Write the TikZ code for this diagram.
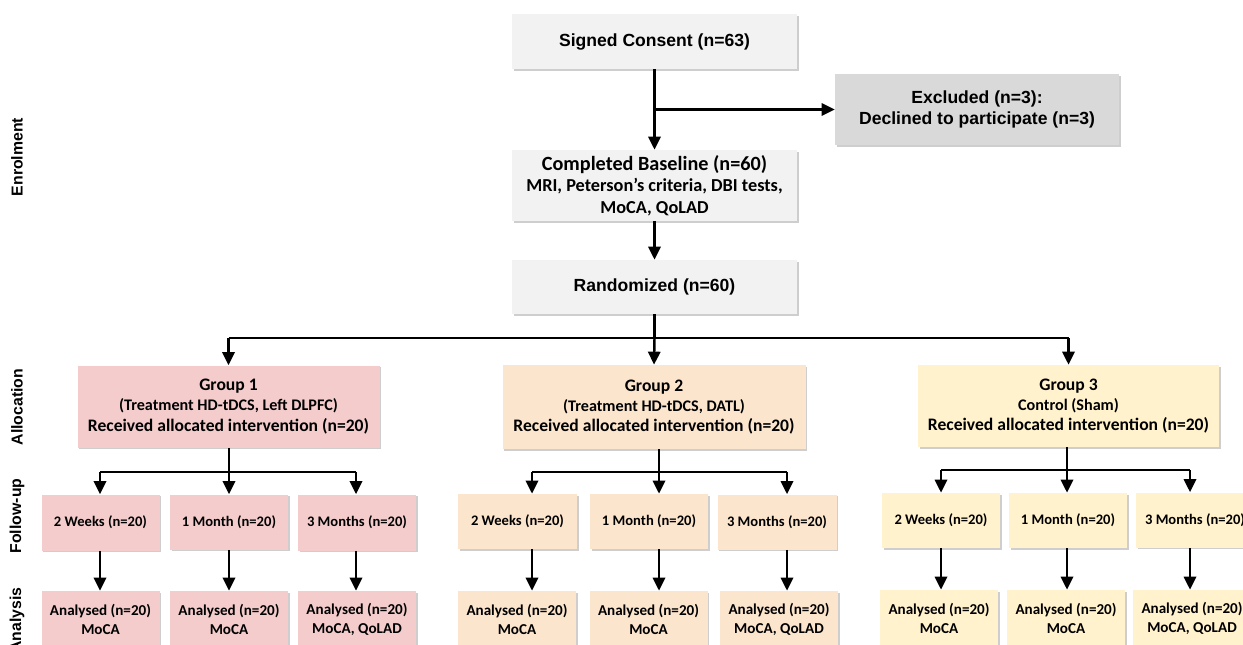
\documentclass[tikz,border=0pt]{standalone}
\usepackage{fontspec}
\setmainfont{Carlito}
\newfontfamily\arialfont{Liberation Sans}
\usetikzlibrary{arrows.meta,positioning,shadows}
\definecolor{ConsentBg}{HTML}{F2F2F2}
\definecolor{ExclBg}{HTML}{D9D9D9}
\definecolor{GroupOne}{HTML}{F4CCCC}
\definecolor{GroupTwo}{HTML}{FCE5CD}
\definecolor{GroupThree}{HTML}{FFF2CC}
\newlength{\px}
\setlength{\px}{0.02cm}
\newcommand{\subline}[1]{{\fontsize{9.2}{11.6}\selectfont #1}}

\begin{document}
\begin{tikzpicture}[x=0.02cm,y=-0.02cm,
  font=\bfseries,
  box/.style={inner sep=2pt,align=center,
              drop shadow={shadow xshift=0.9pt,shadow yshift=-1.1pt,opacity=0.35,fill=black!55}},
  topbox/.style={box,fill=ConsentBg,minimum width=285\px,
                 font=\arialfont\bfseries\fontsize{10}{12}\selectfont},
  grp/.style={box,minimum width=302\px,minimum height=82\px,
              font=\bfseries\fontsize{10}{11.6}\selectfont},
  fup/.style={box,minimum width=118\px,minimum height=55\px,
              font=\bfseries\fontsize{8.3}{10}\selectfont},
  ana/.style={box,minimum width=118\px,minimum height=56\px,
              font=\bfseries\fontsize{8.6}{10.8}\selectfont},
  side/.style={rotate=90,font=\arialfont\bfseries\fontsize{9}{10}\selectfont},
  fl/.style={-{Triangle[length=7.4pt,width=7pt]},line width=1.4pt},
  ln/.style={line width=1.4pt}
]
\useasboundingbox (0,0) rectangle (1243,645);
\fill[white] (0,0) rectangle (1243,645);
\clip (0,0) rectangle (1243,645);

\node[side] (lenrol) at (17,157) {Enrolment};
\node[side] (lalloc) at (17,407) {Allocation};
\node[side] (lfollow) at (17,516) {Follow-up};
\node[side] (lanaly) at (17,620) {Analysis};

\node[topbox,minimum height=55\px] (consent) at (654.5,41.5) {Signed Consent (n=63)};
\node[topbox,fill=ExclBg,minimum width=284\px,minimum height=71\px] (excl) at (977,109.5)
  {Excluded (n=3):\\Declined to participate (n=3)};
\node[topbox,minimum height=71\px,font=\bfseries\fontsize{11.5}{12.2}\selectfont] (base) at (654.5,185.5)
  {Completed Baseline (n=60)\\{\fontsize{10.4}{12.2}\selectfont MRI, Peterson’s criteria, DBI tests,}\\{\fontsize{10.4}{12.2}\selectfont MoCA, QoLAD}};
\node[topbox,minimum height=54\px] (rand) at (654.5,287) {Randomized (n=60)};

\node[grp,fill=GroupOne] (g1) at (228.5,406.5)
  {Group 1\\\subline{(Treatment HD-tDCS, Left DLPFC)}\\Received allocated intervention (n=20)};
\node[grp,fill=GroupTwo,minimum width=303\px,minimum height=84\px] (g2) at (654,407)
  {Group 2\\\subline{(Treatment HD-tDCS, DATL)}\\Received allocated intervention (n=20)};
\node[grp,fill=GroupThree,minimum width=301\px] (g3) at (1068.5,406)
  {Group 3\\\subline{Control (Sham)}\\Received allocated intervention (n=20)};

\node[fup,fill=GroupOne,minimum height=56\px] (f11) at (100.5,522.5) {2 Weeks (n=20)};
\node[fup,fill=GroupOne] (f12) at (229,522) {1 Month (n=20)};
\node[fup,fill=GroupOne,minimum height=56\px] (f13) at (357,522.5) {3 Months (n=20)};
\node[ana,fill=GroupOne] (a11) at (100.5,619) {Analysed (n=20)\\MoCA};
\node[ana,fill=GroupOne] (a12) at (229,619) {Analysed (n=20)\\MoCA};
\node[ana,fill=GroupOne] (a13) at (357,619) {Analysed (n=20)\\MoCA, QoLAD};

\node[fup,fill=GroupTwo,minimum width=119\px] (f21) at (517.5,521.5) {2 Weeks (n=20)};
\node[fup,fill=GroupTwo] (f22) at (649,521.5) {1 Month (n=20)};
\node[fup,fill=GroupTwo,minimum width=119\px] (f23) at (777,522) {3 Months (n=20)};
\node[ana,fill=GroupTwo] (a21) at (517,619) {Analysed (n=20)\\MoCA};
\node[ana,fill=GroupTwo] (a22) at (648.5,619) {Analysed (n=20)\\MoCA};
\node[ana,fill=GroupTwo] (a23) at (779,619) {Analysed (n=20)\\MoCA, QoLAD};

\node[fup,fill=GroupThree] (f31) at (941,520.5) {2 Weeks (n=20)};
\node[fup,fill=GroupThree] (f32) at (1068,520.5) {1 Month (n=20)};
\node[fup,fill=GroupThree] (f33) at (1195,520) {3 Months (n=20)};
\node[ana,fill=GroupThree] (a31) at (939,618) {Analysed (n=20)\\MoCA};
\node[ana,fill=GroupThree] (a32) at (1066,618) {Analysed (n=20)\\MoCA};
\node[ana,fill=GroupThree] (a33) at (1192,618) {Analysed (n=20)\\MoCA, QoLAD};

\coordinate (br0) at (654.5,338);
\coordinate (br1) at (229,472);
\coordinate (br2) at (659,472);
\coordinate (br3) at (1068,470);
\coordinate (t11) at (100,0);
\coordinate (t12) at (229,0);
\coordinate (t13) at (356,0);
\coordinate (t21) at (532,0);
\coordinate (t22) at (659,0);
\coordinate (t23) at (787,0);
\coordinate (t31) at (941,0);
\coordinate (t32) at (1067,0);
\coordinate (t33) at (1190,0);

\draw[fl] (consent) -- (base);
\draw[fl] (consent.south |- excl.west) -- (excl.west);
\draw[fl] (base) -- (rand);
\draw[ln] (rand.south) -- (br0);
\draw[ln] (g1.north |- br0) -- (g3.north |- br0);
\draw[fl] (g1.north |- br0) -- (g1.north);
\draw[fl] (br0) -- (g2.north);
\draw[fl] (g3.north |- br0) -- (g3.north);

\foreach \g in {1,2,3}{
  \draw[ln] (t\g2 |- g\g.south) -- (t\g2 |- br\g);
  \draw[ln] (t\g1 |- br\g) -- (t\g3 |- br\g);
  \foreach \i in {1,2,3}{
    \draw[fl] (t\g\i |- br\g) -- (t\g\i |- f\g\i.north);
    \draw[fl] (t\g\i |- f\g\i.south) -- (t\g\i |- a\g\i.north);
  }
}
\end{tikzpicture}
\end{document}
